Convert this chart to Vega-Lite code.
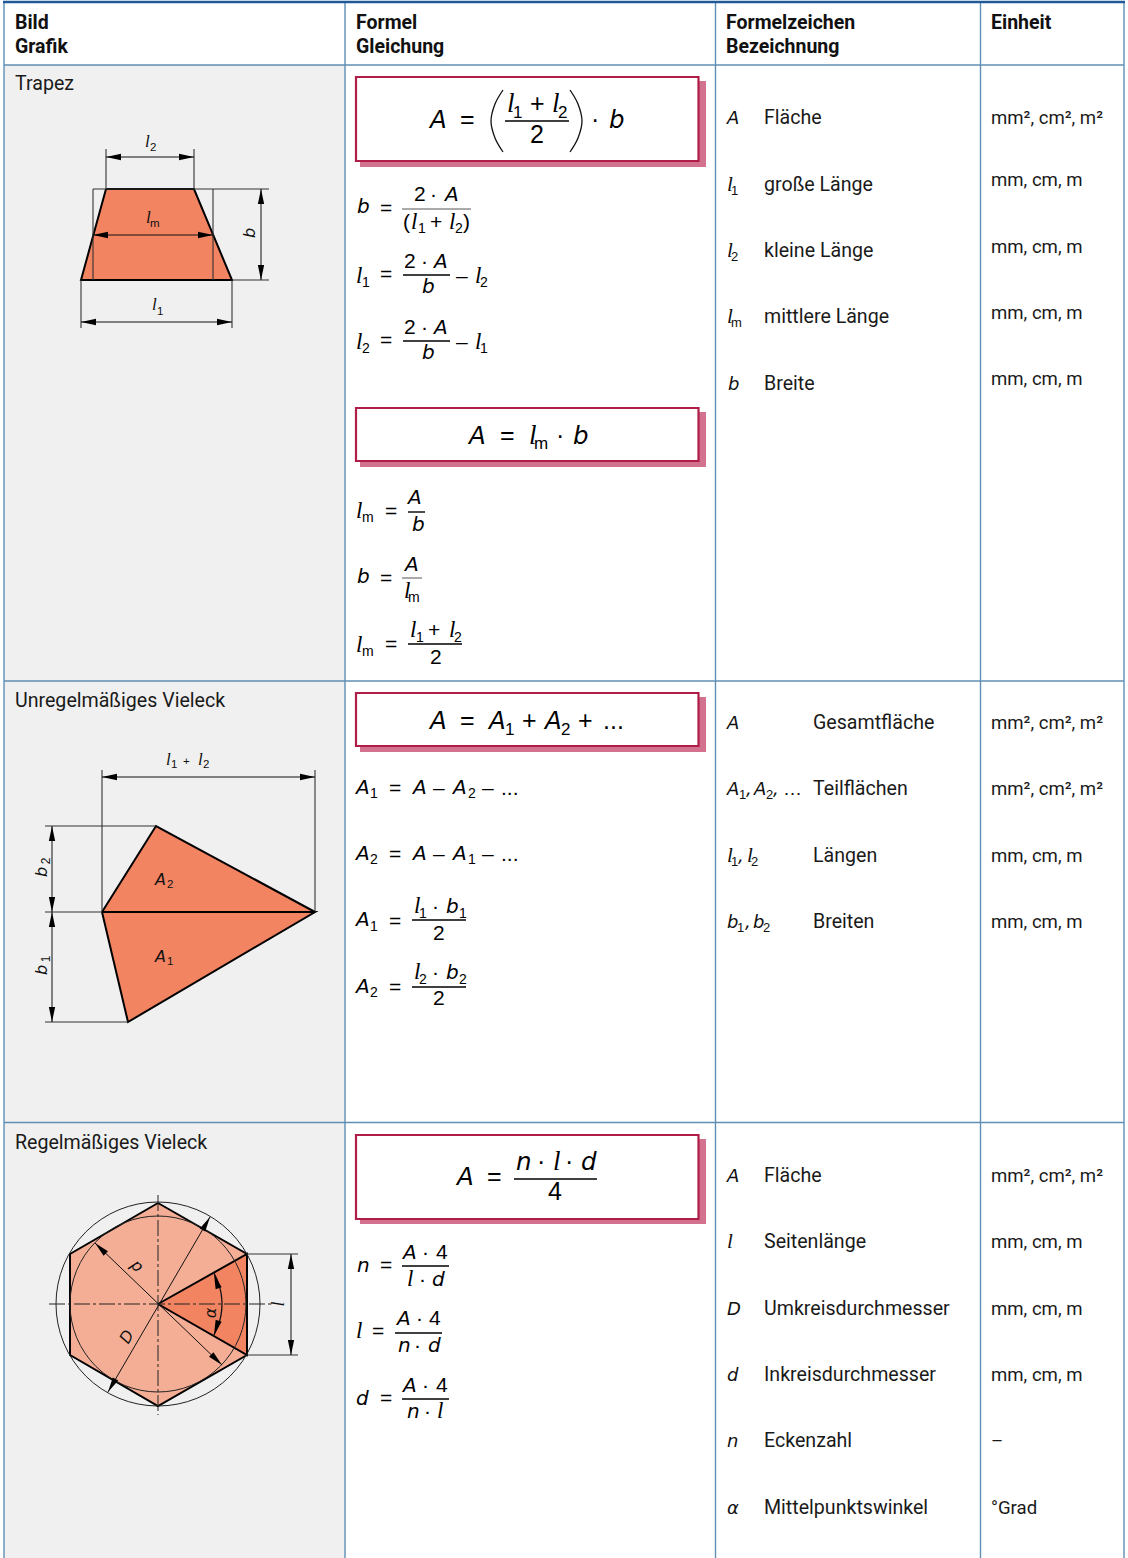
{"$schema":"https://vega.github.io/schema/vega-lite/v6.json","width":1128,"height":1558,"padding":0,"autosize":"none","background":"#ffffff","config":{"view":{"stroke":null}},
"encoding":{"x":{"field":"x","type":"quantitative","scale":{"domain":[0,1128],"range":[0,1128],"nice":false,"zero":false},"axis":null},"y":{"field":"y","type":"quantitative","scale":{"domain":[0,1558],"range":[0,1558],"nice":false,"zero":false},"axis":null}},
"layer":[
{"data":{"values":[{"x":4,"x2":345,"y":65,"y2":1558}]},"mark":{"type":"rect","fill":"#f0f0f0"},"encoding":{"x2":{"field":"x2"},"y2":{"field":"y2"}}},
{"data":{"values":[{"x":360,"x2":706,"y":81,"y2":167},{"x":360,"x2":706,"y":412,"y2":467},{"x":360,"x2":706,"y":697,"y2":752},{"x":360,"x2":706,"y":1139,"y2":1224}]},"mark":{"type":"rect","fill":"#d2728e"},"encoding":{"x2":{"field":"x2"},"y2":{"field":"y2"}}},
{"data":{"values":[{"x":356,"x2":698.5,"y":77,"y2":161},{"x":356,"x2":698.5,"y":408,"y2":461},{"x":356,"x2":698.5,"y":693,"y2":746},{"x":356,"x2":698.5,"y":1135,"y2":1219}]},"mark":{"type":"rect","fill":"#ffffff","stroke":"#b01e48","strokeWidth":2.2},"encoding":{"x2":{"field":"x2"},"y2":{"field":"y2"}}},
{"data":{"values":[{"x":4,"x2":1124,"y":65,"y2":65},{"x":4,"x2":1124,"y":681,"y2":681},{"x":4,"x2":1124,"y":1122.5,"y2":1122.5},{"x":345,"x2":345,"y":3,"y2":1558},{"x":715.5,"x2":715.5,"y":3,"y2":1558},{"x":980.5,"x2":980.5,"y":3,"y2":1558},{"x":4,"x2":4,"y":3,"y2":1558},{"x":1124,"x2":1124,"y":3,"y2":1558}]},"mark":{"type":"rule","stroke":"#5f8fb5","strokeWidth":1.4},"encoding":{"x2":{"field":"x2"},"y2":{"field":"y2"}}},
{"data":{"values":[{"x":3,"x2":1125,"y":2,"y2":2}]},"mark":{"type":"rule","stroke":"#1f5a96","strokeWidth":2.5},"encoding":{"x2":{"field":"x2"},"y2":{"field":"y2"}}},
{"data":{"values":[{"id":"h","o":1,"x":158,"y":1203},{"id":"h","o":2,"x":247,"y":1254},{"id":"h","o":3,"x":247,"y":1355},{"id":"h","o":4,"x":158,"y":1406},{"id":"h","o":5,"x":70,"y":1355},{"id":"h","o":6,"x":70,"y":1254},{"id":"h","o":7,"x":158,"y":1203}]},"mark":{"type":"line","fill":"#f5ae96","stroke":"#000000","strokeWidth":2},"encoding":{"order":{"field":"o"},"detail":{"field":"id"}}},
{"data":{"values":[{"id":"t","o":1,"x":106,"y":189},{"id":"t","o":2,"x":194,"y":189},{"id":"t","o":3,"x":232,"y":280},{"id":"t","o":4,"x":81,"y":280},{"id":"t","o":5,"x":106,"y":189},{"id":"a2","o":1,"x":102,"y":912},{"id":"a2","o":2,"x":156,"y":826},{"id":"a2","o":3,"x":315,"y":912},{"id":"a2","o":4,"x":102,"y":912},{"id":"a1","o":1,"x":102,"y":912},{"id":"a1","o":2,"x":315,"y":912},{"id":"a1","o":3,"x":128,"y":1022},{"id":"a1","o":4,"x":102,"y":912},{"id":"w","o":1,"x":158,"y":1304},{"id":"w","o":2,"x":247,"y":1254},{"id":"w","o":3,"x":247,"y":1355},{"id":"w","o":4,"x":158,"y":1304}]},"mark":{"type":"line","fill":"#f28462","stroke":"#000000","strokeWidth":2},"encoding":{"order":{"field":"o"},"detail":{"field":"id"}}},
{"data":{"values":[{"x":158,"y":1304,"d":204},{"x":158,"y":1304,"d":176}]},"mark":{"type":"point","shape":"circle","filled":false,"stroke":"#222222","strokeWidth":1,"opacity":1},"encoding":{"size":{"field":"d","type":"quantitative","scale":{"type":"pow","exponent":2,"domain":[0,204],"range":[0,41616]},"legend":null}}},
{"data":{"values":[{"x":106,"x2":106,"y":149,"y2":189},{"x":194,"x2":194,"y":149,"y2":189},{"x":93,"x2":269,"y":189,"y2":189},{"x":232,"x2":269,"y":280,"y2":280},{"x":93,"x2":93,"y":189,"y2":280},{"x":213,"x2":213,"y":189,"y2":280},{"x":81,"x2":81,"y":280,"y2":328},{"x":232,"x2":232,"y":280,"y2":328},{"x":102,"x2":102,"y":770,"y2":912},{"x":315,"x2":315,"y":770,"y2":912},{"x":45,"x2":156,"y":826,"y2":826},{"x":45,"x2":102,"y":912,"y2":912},{"x":45,"x2":128,"y":1022,"y2":1022},{"x":247,"x2":298,"y":1254,"y2":1254},{"x":247,"x2":298,"y":1355,"y2":1355}]},"mark":{"type":"rule","stroke":"#333333","strokeWidth":1.1},"encoding":{"x2":{"field":"x2"},"y2":{"field":"y2"}}},
{"data":{"values":[{"x":106,"x2":194,"y":157,"y2":157},{"x":93,"x2":213,"y":235,"y2":235},{"x":81,"x2":232,"y":322,"y2":322},{"x":261,"x2":261,"y":189,"y2":280},{"x":102,"x2":315,"y":777,"y2":777},{"x":52,"x2":52,"y":826,"y2":1022},{"x":291,"x2":291,"y":1254,"y2":1355},{"x":108,"x2":210,"y":1392,"y2":1217},{"x":95,"x2":222,"y":1243,"y2":1365}]},"mark":{"type":"rule","stroke":"#111111","strokeWidth":1},"encoding":{"x2":{"field":"x2"},"y2":{"field":"y2"}}},
{"data":{"values":[{"x":102,"x2":315,"y":912,"y2":912}]},"mark":{"type":"rule","stroke":"#000000","strokeWidth":2.2},"encoding":{"x2":{"field":"x2"},"y2":{"field":"y2"}}},
{"data":{"values":[{"x":158,"x2":158,"y":1195,"y2":1415},{"x":49,"x2":272,"y":1304,"y2":1304}]},"mark":{"type":"rule","stroke":"#222222","strokeWidth":1,"strokeDash":[16,3,3,3]},"encoding":{"x2":{"field":"x2"},"y2":{"field":"y2"}}},
{"data":{"values":[{"id":"arc","o":1,"x":213.4,"y":1272},{"id":"arc","o":2,"x":218.1,"y":1282.1},{"id":"arc","o":3,"x":221,"y":1292.9},{"id":"arc","o":4,"x":222,"y":1304},{"id":"arc","o":5,"x":221,"y":1315.1},{"id":"arc","o":6,"x":218.1,"y":1325.9},{"id":"arc","o":7,"x":213.4,"y":1336},{"id":"pl","o":1,"x":503,"y":90},{"id":"pl","o":2,"x":495,"y":104},{"id":"pl","o":3,"x":491,"y":121},{"id":"pl","o":4,"x":495,"y":138},{"id":"pl","o":5,"x":503,"y":152},{"id":"pr","o":1,"x":570,"y":90},{"id":"pr","o":2,"x":578,"y":104},{"id":"pr","o":3,"x":582,"y":121},{"id":"pr","o":4,"x":578,"y":138},{"id":"pr","o":5,"x":570,"y":152}]},"mark":{"type":"line","stroke":"#111111","strokeWidth":1.3,"interpolate":"cardinal"},"encoding":{"order":{"field":"o"},"detail":{"field":"id"}}},
{"data":{"values":[{"x":106,"y":157,"a":0},{"x":194,"y":157,"a":180},{"x":93,"y":235,"a":0},{"x":213,"y":235,"a":180},{"x":81,"y":322,"a":0},{"x":232,"y":322,"a":180},{"x":261,"y":189,"a":90},{"x":261,"y":280,"a":270},{"x":102,"y":777,"a":0},{"x":315,"y":777,"a":180},{"x":52,"y":826,"a":90},{"x":52,"y":912,"a":270},{"x":52,"y":912,"a":90},{"x":52,"y":1022,"a":270},{"x":291,"y":1254,"a":90},{"x":291,"y":1355,"a":270},{"x":95,"y":1243,"a":44},{"x":222,"y":1365,"a":224},{"x":210,"y":1217,"a":120},{"x":108,"y":1392,"a":300},{"x":214,"y":1274,"a":72},{"x":214,"y":1335,"a":288}]},"mark":{"type":"point","shape":"M0,0L1,-0.21L1,0.21Z","filled":true,"fill":"#000000","stroke":null,"size":900,"opacity":1},"encoding":{"angle":{"field":"a","type":"quantitative","scale":null}}},
{"data":{"values":[{"x":505,"x2":569,"y":121,"y2":121},{"x":514,"x2":597,"y":1179,"y2":1179},{"x":403,"x2":450,"y":275,"y2":275},{"x":403,"x2":450,"y":341,"y2":341},{"x":408,"x2":425,"y":512,"y2":512},{"x":408,"x2":462,"y":644,"y2":644},{"x":412,"x2":466,"y":920,"y2":920},{"x":412,"x2":466,"y":987,"y2":987},{"x":402,"x2":449,"y":1266,"y2":1266},{"x":395,"x2":442,"y":1333,"y2":1333},{"x":402,"x2":449,"y":1399,"y2":1399}]},"mark":{"type":"rule","stroke":"#000000","strokeWidth":1.4},"encoding":{"x2":{"field":"x2"},"y2":{"field":"y2"}}},
{"data":{"values":[{"x":402,"x2":471,"y":209,"y2":209},{"x":402,"x2":422,"y":578,"y2":578}]},"mark":{"type":"rule","stroke":"#555555","strokeWidth":1},"encoding":{"x2":{"field":"x2"},"y2":{"field":"y2"}}},
{"data":{"values":[{"t":"Bild","x":15,"y":29},{"t":"Grafik","x":15,"y":53},{"t":"Formel","x":356,"y":29},{"t":"Gleichung","x":356,"y":53},{"t":"Formelzeichen","x":726,"y":29},{"t":"Bezeichnung","x":726,"y":53},{"t":"Einheit","x":991,"y":29}]},"mark":{"type":"text","font":"Roboto","fontWeight":"bold","fontSize":19.5,"align":"left","baseline":"alphabetic","fill":"#111111"},"encoding":{"text":{"field":"t"}}},
{"data":{"values":[{"t":"Trapez","x":15,"y":90},{"t":"Unregelmäßiges Vieleck","x":15,"y":707},{"t":"Regelmäßiges Vieleck","x":15,"y":1149},{"t":"Fläche","x":764,"y":124},{"t":"große Länge","x":764,"y":191},{"t":"kleine Länge","x":764,"y":257},{"t":"mittlere Länge","x":764,"y":323},{"t":"Breite","x":764,"y":390},{"t":"Gesamtfläche","x":813,"y":729},{"t":"Teilflächen","x":813,"y":795},{"t":"Längen","x":813,"y":862},{"t":"Breiten","x":813,"y":928},{"t":"Fläche","x":764,"y":1182},{"t":"Seitenlänge","x":764,"y":1248},{"t":"Umkreisdurchmesser","x":764,"y":1315},{"t":"Inkreisdurchmesser","x":764,"y":1381},{"t":"Eckenzahl","x":764,"y":1447},{"t":"Mittelpunktswinkel","x":764,"y":1514}]},"mark":{"type":"text","font":"Roboto","fontSize":19.6,"align":"left","baseline":"alphabetic","fill":"#1a1a1a"},"encoding":{"text":{"field":"t"}}},
{"data":{"values":[{"t":"mm², cm², m²","x":991,"y":124},{"t":"mm, cm, m","x":991,"y":186},{"t":"mm, cm, m","x":991,"y":253},{"t":"mm, cm, m","x":991,"y":319},{"t":"mm, cm, m","x":991,"y":385},{"t":"mm², cm², m²","x":991,"y":729},{"t":"mm², cm², m²","x":991,"y":795},{"t":"mm, cm, m","x":991,"y":862},{"t":"mm, cm, m","x":991,"y":928},{"t":"mm², cm², m²","x":991,"y":1182},{"t":"mm, cm, m","x":991,"y":1248},{"t":"mm, cm, m","x":991,"y":1315},{"t":"mm, cm, m","x":991,"y":1381},{"t":"–","x":991,"y":1447},{"t":"°Grad","x":991,"y":1514}]},"mark":{"type":"text","font":"Roboto","fontSize":18.6,"align":"left","baseline":"alphabetic","fill":"#1a1a1a"},"encoding":{"text":{"field":"t"}}},
{"data":{"values":[{"t":"A","x":430,"y":128},{"t":"b","x":609,"y":128},{"t":"A","x":469,"y":444},{"t":"b","x":573,"y":444},{"t":"A","x":430,"y":729},{"t":"A","x":489,"y":729},{"t":"A","x":545,"y":729},{"t":"A","x":457,"y":1185},{"t":"n","x":516,"y":1170},{"t":"d","x":581,"y":1170}]},"mark":{"type":"text","font":"DejaVu Sans","fontStyle":"italic","fontSize":24.5,"align":"left","baseline":"alphabetic","fill":"#000000"},"encoding":{"text":{"field":"t"}}},
{"data":{"values":[{"t":"l","x":507,"y":112},{"t":"l","x":552,"y":112},{"t":"l","x":529,"y":444},{"t":"l","x":553,"y":1170}]},"mark":{"type":"text","font":"Liberation Serif","fontStyle":"italic","fontSize":27,"align":"left","baseline":"alphabetic","fill":"#000000"},"encoding":{"text":{"field":"t"}}},
{"data":{"values":[{"t":"=","x":460,"y":128},{"t":"+","x":530,"y":112},{"t":"2","x":530,"y":143},{"t":"·","x":591,"y":128},{"t":"=","x":500,"y":444},{"t":"·","x":556,"y":444},{"t":"=","x":460,"y":729},{"t":"+","x":522,"y":729},{"t":"+","x":578,"y":729},{"t":"...","x":603,"y":729},{"t":"=","x":487,"y":1185},{"t":"·","x":537,"y":1170},{"t":"·","x":565,"y":1170},{"t":"4","x":548,"y":1200}]},"mark":{"type":"text","font":"Liberation Sans","fontSize":25,"align":"left","baseline":"alphabetic","fill":"#000000"},"encoding":{"text":{"field":"t"}}},
{"data":{"values":[{"t":"1","x":513,"y":118},{"t":"2","x":558,"y":118},{"t":"m","x":534,"y":449},{"t":"1","x":505,"y":735},{"t":"2","x":561,"y":735}]},"mark":{"type":"text","font":"Liberation Sans","fontSize":17,"align":"left","baseline":"alphabetic","fill":"#000000"},"encoding":{"text":{"field":"t"}}},
{"data":{"values":[{"t":"b","x":357,"y":213},{"t":"A","x":445,"y":201},{"t":"A","x":434,"y":268},{"t":"b","x":422,"y":293},{"t":"A","x":434,"y":334},{"t":"b","x":422,"y":359},{"t":"A","x":408,"y":504},{"t":"b","x":412,"y":531},{"t":"b","x":357,"y":583},{"t":"A","x":405,"y":571},{"t":"A","x":356,"y":794},{"t":"A","x":413,"y":794},{"t":"A","x":453,"y":794},{"t":"A","x":356,"y":860},{"t":"A","x":413,"y":860},{"t":"A","x":453,"y":860},{"t":"A","x":356,"y":926},{"t":"b","x":446,"y":913},{"t":"A","x":356,"y":993},{"t":"b","x":446,"y":979},{"t":"n","x":357,"y":1272},{"t":"A","x":403,"y":1259},{"t":"d","x":432,"y":1286},{"t":"A","x":397,"y":1325},{"t":"n","x":398,"y":1352},{"t":"d","x":428,"y":1352},{"t":"d","x":356,"y":1405},{"t":"A","x":403,"y":1392},{"t":"n","x":407,"y":1418}]},"mark":{"type":"text","font":"DejaVu Sans","fontStyle":"italic","fontSize":20,"align":"left","baseline":"alphabetic","fill":"#000000"},"encoding":{"text":{"field":"t"}}},
{"data":{"values":[{"t":"l","x":411,"y":229},{"t":"l","x":449,"y":229},{"t":"l","x":356,"y":283},{"t":"l","x":475,"y":283},{"t":"l","x":356,"y":349},{"t":"l","x":475,"y":349},{"t":"l","x":356,"y":518},{"t":"l","x":404,"y":598},{"t":"l","x":356,"y":652},{"t":"l","x":410,"y":637},{"t":"l","x":449,"y":637},{"t":"l","x":414,"y":913},{"t":"l","x":414,"y":979},{"t":"l","x":407,"y":1286},{"t":"l","x":356,"y":1338},{"t":"l","x":437,"y":1418}]},"mark":{"type":"text","font":"Liberation Serif","fontStyle":"italic","fontSize":23,"align":"left","baseline":"alphabetic","fill":"#000000"},"encoding":{"text":{"field":"t"}}},
{"data":{"values":[{"t":"=","x":380,"y":215},{"t":"2","x":414,"y":201},{"t":"·","x":430,"y":201},{"t":"(","x":403,"y":229},{"t":"+","x":430,"y":229},{"t":")","x":463,"y":229},{"t":"=","x":380,"y":281},{"t":"2","x":404,"y":268},{"t":"·","x":421,"y":268},{"t":"–","x":456,"y":283},{"t":"=","x":380,"y":347},{"t":"2","x":404,"y":334},{"t":"·","x":421,"y":334},{"t":"–","x":456,"y":349},{"t":"=","x":385,"y":518},{"t":"=","x":380,"y":585},{"t":"=","x":385,"y":651},{"t":"+","x":428,"y":637},{"t":"2","x":430,"y":664},{"t":"=","x":389,"y":795},{"t":"–","x":433,"y":795},{"t":"–","x":482,"y":795},{"t":"...","x":501,"y":795},{"t":"=","x":389,"y":861},{"t":"–","x":433,"y":861},{"t":"–","x":482,"y":861},{"t":"...","x":501,"y":861},{"t":"=","x":389,"y":928},{"t":"·","x":432,"y":913},{"t":"2","x":433,"y":940},{"t":"=","x":389,"y":994},{"t":"·","x":432,"y":979},{"t":"2","x":433,"y":1005},{"t":"=","x":380,"y":1272},{"t":"·","x":422,"y":1259},{"t":"4","x":436,"y":1259},{"t":"·","x":419,"y":1286},{"t":"=","x":372,"y":1338},{"t":"·","x":416,"y":1325},{"t":"4","x":429,"y":1325},{"t":"·","x":414,"y":1352},{"t":"=","x":380,"y":1405},{"t":"·","x":422,"y":1392},{"t":"4","x":436,"y":1392},{"t":"·","x":424,"y":1418}]},"mark":{"type":"text","font":"Liberation Sans","fontSize":21,"align":"left","baseline":"alphabetic","fill":"#000000"},"encoding":{"text":{"field":"t"}}},
{"data":{"values":[{"t":"1","x":418,"y":233},{"t":"2","x":455,"y":233},{"t":"1","x":362,"y":287},{"t":"2","x":480,"y":287},{"t":"2","x":362,"y":353},{"t":"1","x":480,"y":353},{"t":"m","x":362,"y":522},{"t":"m","x":408,"y":602},{"t":"m","x":362,"y":656},{"t":"1","x":416,"y":642},{"t":"2","x":454,"y":642},{"t":"1","x":370,"y":798},{"t":"2","x":468,"y":798},{"t":"2","x":370,"y":864},{"t":"1","x":468,"y":864},{"t":"1","x":370,"y":931},{"t":"1","x":419,"y":918},{"t":"1","x":459,"y":918},{"t":"2","x":370,"y":997},{"t":"2","x":419,"y":984},{"t":"2","x":459,"y":984}]},"mark":{"type":"text","font":"Liberation Sans","fontSize":14,"align":"left","baseline":"alphabetic","fill":"#000000"},"encoding":{"text":{"field":"t"}}},
{"data":{"values":[{"t":"A","x":727,"y":124},{"t":"b","x":728,"y":390},{"t":"A","x":727,"y":729},{"t":"A","x":727,"y":795},{"t":",","x":746,"y":795},{"t":"A","x":754,"y":795},{"t":",","x":773,"y":795},{"t":",","x":738,"y":862},{"t":"b","x":727,"y":928},{"t":",","x":745,"y":928},{"t":"b","x":753,"y":928},{"t":"A","x":727,"y":1182},{"t":"D","x":727,"y":1315},{"t":"d","x":727,"y":1381},{"t":"n","x":727,"y":1447},{"t":"α","x":727,"y":1514}]},"mark":{"type":"text","font":"DejaVu Sans","fontStyle":"italic","fontSize":18,"align":"left","baseline":"alphabetic","fill":"#111111"},"encoding":{"text":{"field":"t"}}},
{"data":{"values":[{"t":"l","x":727,"y":191},{"t":"l","x":727,"y":257},{"t":"l","x":727,"y":323},{"t":"l","x":727,"y":862},{"t":"l","x":747,"y":862},{"t":"l","x":727,"y":1248}]},"mark":{"type":"text","font":"Liberation Serif","fontStyle":"italic","fontSize":21,"align":"left","baseline":"alphabetic","fill":"#111111"},"encoding":{"text":{"field":"t"}}},
{"data":{"values":[{"t":"…","x":783,"y":795}]},"mark":{"type":"text","font":"Liberation Sans","fontSize":19,"align":"left","baseline":"alphabetic","fill":"#111111"},"encoding":{"text":{"field":"t"}}},
{"data":{"values":[{"t":"1","x":731,"y":195},{"t":"2","x":731,"y":261},{"t":"m","x":731,"y":327},{"t":"1","x":739,"y":799},{"t":"2","x":766,"y":799},{"t":"1","x":731,"y":866},{"t":"2","x":751,"y":866},{"t":"1","x":737,"y":932},{"t":"2","x":763,"y":932}]},"mark":{"type":"text","font":"Liberation Sans","fontSize":13,"align":"left","baseline":"alphabetic","fill":"#111111"},"encoding":{"text":{"field":"t"}}},
{"data":{"values":[{"t":"l","x":145,"y":147},{"t":"l","x":146,"y":223},{"t":"l","x":152,"y":310},{"t":"l","x":166,"y":765},{"t":"l","x":198,"y":765}]},"mark":{"type":"text","font":"Liberation Serif","fontStyle":"italic","fontSize":17,"align":"left","baseline":"alphabetic","fill":"#111111"},"encoding":{"text":{"field":"t"}}},
{"data":{"values":[{"t":"A","x":155,"y":885},{"t":"A","x":155,"y":962}]},"mark":{"type":"text","font":"DejaVu Sans","fontStyle":"italic","fontSize":16,"align":"left","baseline":"alphabetic","fill":"#111111"},"encoding":{"text":{"field":"t"}}},
{"data":{"values":[{"t":"2","x":150,"y":151},{"t":"m","x":150,"y":227},{"t":"1","x":157,"y":315},{"t":"1","x":171,"y":768},{"t":"+","x":183,"y":765},{"t":"2","x":203,"y":768},{"t":"2","x":167,"y":888},{"t":"1","x":167,"y":965}]},"mark":{"type":"text","font":"Liberation Sans","fontSize":11.5,"align":"left","baseline":"alphabetic","fill":"#111111"},"encoding":{"text":{"field":"t"}}},
{"data":{"values":[{"t":"b","x":250,"y":233,"a":270},{"t":"b","x":42,"y":872,"a":270},{"t":"b","x":42,"y":970,"a":270},{"t":"d","x":136,"y":1267,"a":225},{"t":"D","x":127,"y":1337,"a":300},{"t":"α","x":211,"y":1313,"a":270}]},"mark":{"type":"text","font":"DejaVu Sans","fontStyle":"italic","fontSize":16,"align":"center","baseline":"middle","fill":"#111111"},"encoding":{"text":{"field":"t"},"angle":{"field":"a","type":"quantitative","scale":null}}},
{"data":{"values":[{"t":"l","x":279,"y":1304,"a":270}]},"mark":{"type":"text","font":"Liberation Serif","fontStyle":"italic","fontSize":18,"align":"center","baseline":"middle","fill":"#111111"},"encoding":{"text":{"field":"t"},"angle":{"field":"a","type":"quantitative","scale":null}}},
{"data":{"values":[{"t":"2","x":46,"y":861,"a":270},{"t":"1","x":46,"y":959,"a":270}]},"mark":{"type":"text","font":"Liberation Sans","fontSize":12,"align":"center","baseline":"middle","fill":"#111111"},"encoding":{"text":{"field":"t"},"angle":{"field":"a","type":"quantitative","scale":null}}}
]}
